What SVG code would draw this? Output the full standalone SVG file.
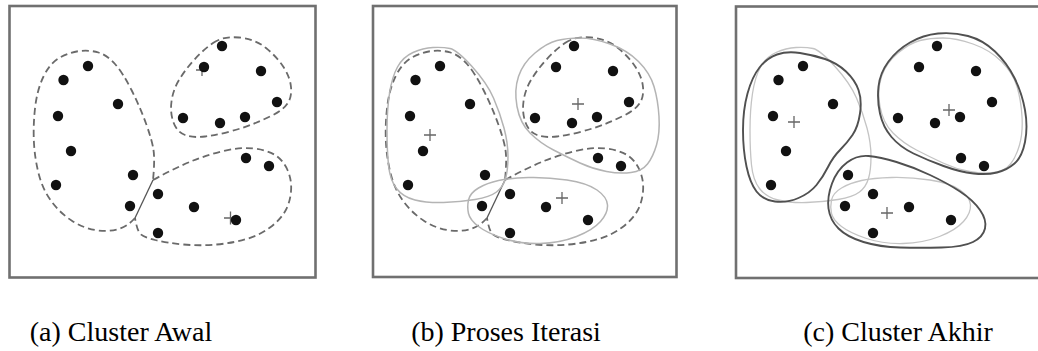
<svg xmlns="http://www.w3.org/2000/svg" xmlns:xlink="http://www.w3.org/1999/xlink" width="1038" height="351" viewBox="0 0 1038 351">
<style>
.box{fill:none;stroke:#707070;stroke-width:2.6}
.dash{fill:none;stroke:#6a6a6a;stroke-width:1.8;stroke-dasharray:7 4}
.sep{fill:none;stroke:#555;stroke-width:1.3}
.gray{fill:none;stroke:#b4b4b4;stroke-width:1.5}
.gray2{fill:none;stroke:#c4c4c4;stroke-width:1.3}
.dark{fill:none;stroke:#505050;stroke-width:1.9}
.pt{fill:#111}
.cross{fill:none;stroke:#666;stroke-width:1.3}
.lbl{font-family:"Liberation Serif","Times New Roman",serif;font-size:28px;fill:#000;text-anchor:middle}
</style>
<defs>
<g id="pts">
<circle class="pt" cx="88" cy="66" r="5.2"/>
<circle class="pt" cx="63.5" cy="80" r="5.2"/>
<circle class="pt" cx="118" cy="104" r="5.2"/>
<circle class="pt" cx="58" cy="116" r="5.2"/>
<circle class="pt" cx="71" cy="151" r="5.2"/>
<circle class="pt" cx="56" cy="185" r="5.2"/>
<circle class="pt" cx="133" cy="175" r="5.2"/>
<circle class="pt" cx="130" cy="206" r="5.2"/>
<circle class="pt" cx="158" cy="194" r="5.2"/>
<circle class="pt" cx="158" cy="233" r="5.2"/>
<circle class="pt" cx="194" cy="207" r="5.2"/>
<circle class="pt" cx="236" cy="220" r="5.2"/>
<circle class="pt" cx="246" cy="158" r="5.2"/>
<circle class="pt" cx="269" cy="166" r="5.2"/>
<circle class="pt" cx="222" cy="46" r="5.2"/>
<circle class="pt" cx="204" cy="67" r="5.2"/>
<circle class="pt" cx="261" cy="71" r="5.2"/>
<circle class="pt" cx="277" cy="102" r="5.2"/>
<circle class="pt" cx="183" cy="118" r="5.2"/>
<circle class="pt" cx="220" cy="123" r="5.2"/>
<circle class="pt" cx="245" cy="117" r="5.2"/>
</g>
<g id="dashA">
<path class="dash" d="M135,218 Q127,227 117,229.5 Q107,232 95,230 Q83,228 71.5,220.5 Q60,213 51.5,201.5 Q43,190 39,175 Q35,160 34,143.5 Q33,127 35,108.5 Q37,90 43.5,76.5 Q50,63 60,57.5 Q70,52 80,51 Q90,50 98.5,52.5 Q107,55 115,64 Q123,73 131.5,90 Q140,107 146,123.5 Q152,140 153.5,150 Q155,160 153,180"/>
<path class="dash" d="M213,43 Q223,36 239,37.5 Q255,39 266,48 Q277,57 283.5,67 Q290,77 291,87 Q292,97 287.5,103.5 Q283,110 273,115 Q263,120 253,124 Q243,128 230,131.5 Q217,135 205,136.5 Q193,138 185,135 Q177,132 173.5,122.5 Q170,113 171.5,101.5 Q173,90 179,80 Q185,70 194,60 Q203,50 213,43 Z"/>
<path class="dash" d="M153,180 Q177,167 192,161 Q207,155 223.5,151 Q240,147 253.5,148.5 Q267,150 275,155 Q283,160 287.5,170 Q292,180 291,191.5 Q290,203 285,211.5 Q280,220 270,227.5 Q260,235 246.5,239 Q233,243 216.5,244.5 Q200,246 183.5,244.5 Q167,243 155,240 Q143,237 140,233.5 Q137,230 135,218"/>
<path class="sep" d="M153,180 L135,218"/>
</g>
<g id="grayB">
<path d="M433,47.5 Q443,47 450,48.5 Q457,50 472,66.5 Q487,83 493.5,98 Q500,113 504,128 Q508,143 508,156.5 Q508,170 505.5,178.5 Q503,187 496.5,192 Q490,197 475,199.5 Q460,202 443.5,202.5 Q427,203 415,200 Q403,197 396.5,188.5 Q390,180 388.5,165 Q387,150 387,130 Q387,110 389.5,93.5 Q392,77 397.5,67 Q403,57 413,52.5 Q423,48 433,47.5 Z"/>
<path d="M557,40.5 Q567,38 580,38 Q593,38 610,44 Q627,50 638.5,61.5 Q650,73 654,86.5 Q658,100 659,116.5 Q660,133 656.5,145 Q653,157 647.5,164 Q642,171 631,172.5 Q620,174 606.5,171.5 Q593,169 580,163 Q567,157 553.5,150 Q540,143 530,133 Q520,123 517,106.5 Q514,90 518.5,76.5 Q523,63 535,53 Q547,43 557,40.5 Z"/>
<path d="M468.5,200 Q470,193 478.5,188 Q487,183 498.5,180.5 Q510,178 528.5,177.5 Q547,177 567,180 Q587,183 597,190 Q607,197 607.5,205 Q608,213 600.5,221.5 Q593,230 576.5,236.5 Q560,243 540,243.5 Q520,244 503.5,238.5 Q487,233 478.5,226.5 Q470,220 468.5,213.5 Q467,207 468.5,200 Z"/>
</g>
</defs>

<g id="panel-a">
<rect class="box" x="9.5" y="6" width="306" height="271.5"/>
<use xlink:href="#dashA"/>
<path class="cross" d="M224,218 H237 M230.5,211.5 V224.5 M196,70 H208 M202,64 V76"/>
<use xlink:href="#pts"/>
</g>

<g id="panel-b">
<rect class="box" x="373" y="6" width="303.5" height="271"/>
<use xlink:href="#dashA" transform="translate(352,0)"/>
<use xlink:href="#grayB" class="gray"/>
<path class="cross" d="M424,135 H436 M430,129 V141 M572,104 H584 M578,98 V110 M556,198 H568 M562,192 V204"/>
<use xlink:href="#pts" transform="translate(352,0)"/>
</g>

<g id="panel-c">
<rect class="box" x="736" y="6.5" width="320" height="271.5"/>
<use xlink:href="#grayB" class="gray2" transform="translate(363,0)"/>
<path class="dark" d="M777,54.5 Q787,51 800,53 Q813,55 825,59 Q837,63 846,71.5 Q855,80 858.5,90 Q862,100 860,113.5 Q858,127 852.5,135 Q847,143 840,150 Q833,157 828,167 Q823,177 816.5,185 Q810,193 798.5,198 Q787,203 775,201.5 Q763,200 756.5,191.5 Q750,183 746.5,166.5 Q743,150 743,130 Q743,110 747.5,93.5 Q752,77 759.5,67.5 Q767,58 777,54.5 Z"/>
<path class="dark" d="M938,33.5 Q953,32 968,36 Q983,40 995,51.5 Q1007,63 1014.5,78 Q1022,93 1025,110 Q1028,127 1025,142 Q1022,157 1014.5,163.5 Q1007,170 997,172.5 Q987,175 973.5,173.5 Q960,172 943.5,166 Q927,160 913.5,153.5 Q900,147 891.5,137 Q883,127 880,113.5 Q877,100 878.5,86.5 Q880,73 888.5,61.5 Q897,50 910,42.5 Q923,35 938,33.5 Z"/>
<path class="dark" d="M847,162.5 Q857,155 868.5,156 Q880,157 896.5,162 Q913,167 930,175 Q947,183 960,191.5 Q973,200 980,210 Q987,220 985,228.5 Q983,237 973,242 Q963,247 941.5,247.5 Q920,248 900,247.5 Q880,247 863.5,242 Q847,237 838.5,228.5 Q830,220 828.5,208.5 Q827,197 832,183.5 Q837,170 847,162.5 Z"/>
<path class="cross" d="M788,122 H800 M794,116 V128 M943,110 H955 M949,104 V116 M881,213 H893 M887,207 V219"/>
<use xlink:href="#pts" transform="translate(715,0)"/>
</g>

<g id="labels">
<text class="lbl" x="121" y="341">(a) Cluster Awal</text>
<text class="lbl" x="506" y="341">(b) Proses Iterasi</text>
<text class="lbl" x="898" y="341">(c) Cluster Akhir</text>
</g>
</svg>
